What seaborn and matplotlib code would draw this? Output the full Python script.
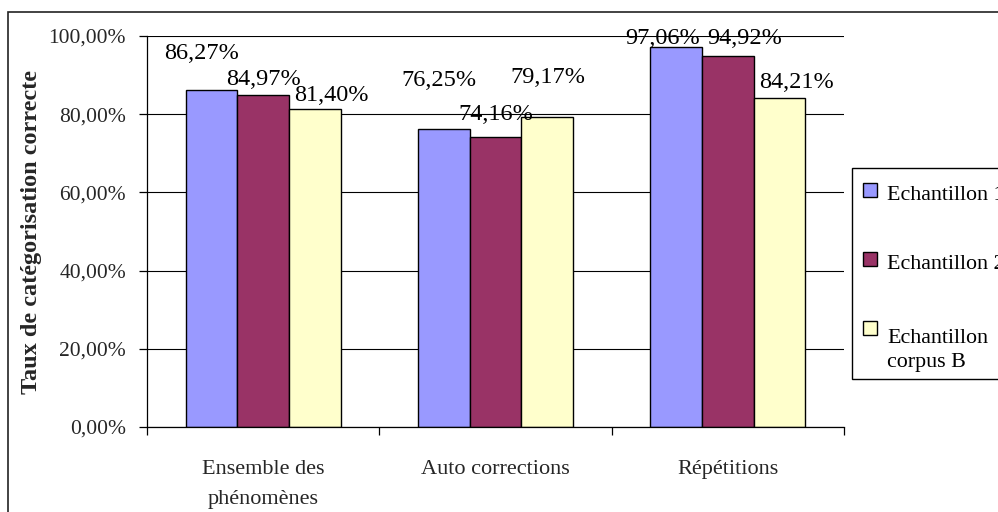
import matplotlib
matplotlib.use("Agg")
import matplotlib.pyplot as plt
from matplotlib.patches import Rectangle
from matplotlib.ticker import FixedLocator, FuncFormatter
import seaborn as sns
import pandas as pd

# ---- data ----
categories = ["Ensemble des\nphénomènes", "Auto corrections", "Répétitions"]
series = ["Echantillon 1", "Echantillon 2", "Echantillon\ncorpus B"]
echantillon_1 = [86.27, 76.25, 97.06]
echantillon_2 = [84.97, 74.16, 94.92]
corpus_b = [81.40, 79.17, 84.21]
colors = ["#9999FF", "#993366", "#FFFFCC"]
y_ticks = [0, 20, 40, 60, 80, 100]

# label placement tweaks (pixels, relative to bar top centre), per series then category
label_dx = [[-10, -5, -14], [0, 0, 17], [17, 1, 17]]
label_dy = [[36.5, 48.5, 9], [15.5, 22.5, 17.5], [13.5, 39.5, 15.5]]

rows = []
for s, vals in zip(series, [echantillon_1, echantillon_2, corpus_b]):
    for c, v in zip(categories, vals):
        rows.append({"cat": c, "serie": s, "val": v})
df = pd.DataFrame(rows)

sns.set_theme(style="white")
plt.rcParams["font.family"] = ["Liberation Serif", "DejaVu Serif"]
plt.rcParams["text.color"] = "black"

W, H = 998, 512
fig = plt.figure(figsize=(W / 100, H / 100), dpi=100)
ax = fig.add_axes([147 / W, 1 - 427 / H, 697 / W, 391 / H])

sns.barplot(data=df, x="cat", y="val", hue="serie", order=categories,
            hue_order=series, palette=colors, saturation=1, width=0.667,
            edgecolor="black", linewidth=1, ax=ax, errorbar=None, legend=False)

ax.set_ylim(0, 100)
ax.set_xlim(-0.5, 2.5)
ax.yaxis.set_major_locator(FixedLocator(y_ticks))
ax.yaxis.set_major_formatter(FuncFormatter(lambda v, p: f"{v:.2f}".replace(".", ",") + "%"))
ax.set_axisbelow(True)
ax.yaxis.grid(True, color="black", linewidth=0.8)
ax.xaxis.grid(False)

for side in ["top", "right"]:
    ax.spines[side].set_visible(False)
for side in ["left", "bottom"]:
    ax.spines[side].set_color("black")
    ax.spines[side].set_linewidth(0.9)

ax.tick_params(axis="y", which="major", length=6, width=0.9, color="black",
               direction="out", left=True, pad=9, labelsize=15.5)
ax.set_xticks(range(len(categories)))
ax.set_xticklabels(categories, fontsize=16, linespacing=1.75)
ax.tick_params(axis="x", which="major", length=0, pad=24)
ax.set_xticks([-0.5, 0.5, 1.5, 2.5], minor=True)
ax.tick_params(axis="x", which="minor", length=6, width=0.9, color="black",
               direction="out", bottom=True)

ax.set_xlabel("")
ax.set_ylabel("Taux de catégorisation correcte", fontsize=17.5, fontweight="bold")
ax.yaxis.set_label_coords(-0.150, 0.5)

# value labels
for si, cont in enumerate(ax.containers):
    for ci, bar in enumerate(cont):
        h = bar.get_height()
        x = bar.get_x() + bar.get_width() / 2
        ax.annotate(f"{h:.2f}".replace(".", ",") + "%", xy=(x, h),
                    xytext=(label_dx[si][ci] * 0.72, label_dy[si][ci] * 0.72),
                    textcoords="offset points", ha="center", va="center",
                    fontsize=17.5, annotation_clip=False)

# legend (drawn as a box at the right, like the original, which runs past the edge)
def fx(px):
    return px / W

def fy(py):
    return 1 - py / H

fig.patches.append(Rectangle((fx(852), fy(379)), fx(1010) - fx(852), fy(168) - fy(379),
                             transform=fig.transFigure, fill=True, facecolor="white",
                             edgecolor="black", linewidth=1, zorder=5))
legend_first_baselines = [200, 269, 338]
line_px = 29
for lab, col, base in zip(series, colors, legend_first_baselines):
    n_lines = lab.count("\n") + 1
    fig.patches.append(Rectangle((fx(863), fy(base - 3)), fx(14), 14 / H,
                                 transform=fig.transFigure, facecolor=col,
                                 edgecolor="black", linewidth=1, zorder=6))
    fig.text(fx(887), fy(base + (n_lines - 1) * line_px), lab, fontsize=15.8,
             ha="left", va="baseline", multialignment="left",
             linespacing=1.33, zorder=6)

# outer chart border
fig.patches.append(Rectangle((8 / W, -0.1), 1.2, 1.1 - 12 / H, transform=fig.transFigure,
                             fill=False, edgecolor="#222222", linewidth=1.2))

fig.savefig("out.png", dpi=100)
